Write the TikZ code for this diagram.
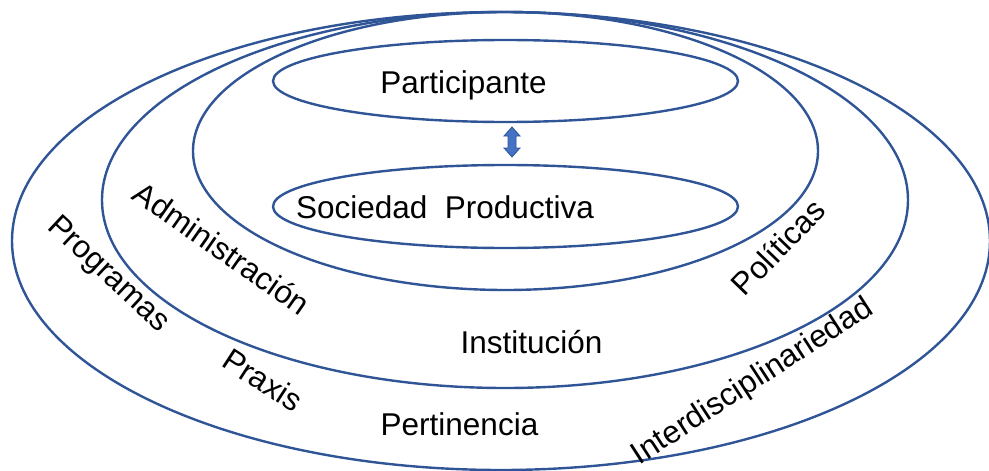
\documentclass[tikz,border=0pt]{standalone}
\usepackage{fontspec}
\setmainfont{Liberation Sans}
\usepackage{xcolor}
\usepackage{tikz}
\definecolor{ringblue}{HTML}{2F5597}
\definecolor{arrowblue}{HTML}{4472C4}
\tikzset{
  ring/.style={draw=ringblue, line width=2.4pt},
  lbl/.style={font=\fontsize{31.5}{36}\selectfont, inner sep=0pt, text=black},
  baselbl/.style={lbl, anchor=base},
  linkArrow/.style={draw=ringblue, fill=arrowblue, line width=0.8pt, line join=miter}
}

\begin{document}
\begin{tikzpicture}[x=1pt,y=-1pt]
  \useasboundingbox (0,0) rectangle (989,471);
  % nested rings, all touching at the top
  \draw[ring] (501,241) ellipse [x radius=489, y radius=229];
  \draw[ring] (505,200) ellipse [x radius=403, y radius=188];
  \draw[ring] (505.5,151) ellipse [x radius=312.5, y radius=139];
  % inner pair
  \draw[ring] (505.5,81) ellipse [x radius=232.5, y radius=41];
  \draw[ring] (505.5,206.5) ellipse [x radius=232.5, y radius=41.5];
  % block double arrow between the inner pair
  \coordinate (link) at (512,142);
  \draw[linkArrow] (link) ++(0,-15) -- ++(8,9) -- ++(-4,0) -- ++(0,12) -- ++(4,0)
    -- ++(-8,9) -- ++(-8,-9) -- ++(4,0) -- ++(0,-12) -- ++(-4,0) -- cycle;
  % texts
  \node[baselbl] (part) at (463.5,93) {Participante};
  \node[baselbl] (soc) at (445,218) {Sociedad\ \ Productiva};
  \node[baselbl] (inst) at (531.5,353) {Institución};
  \node[baselbl] (pert) at (459.5,435) {Pertinencia};
  \node[lbl, rotate=-35] (adm) at (222,248) {Administración};
  \node[lbl, rotate=-43] (prog) at (108,275) {Programas};
  \node[lbl, rotate=-33] (prax) at (263,380) {Praxis};
  \node[lbl, rotate=46] (pol) at (778,247) {Políticas};
  \node[lbl, rotate=33] (inter) at (753,382) {Interdisciplinariedad};
\end{tikzpicture}
\end{document}
